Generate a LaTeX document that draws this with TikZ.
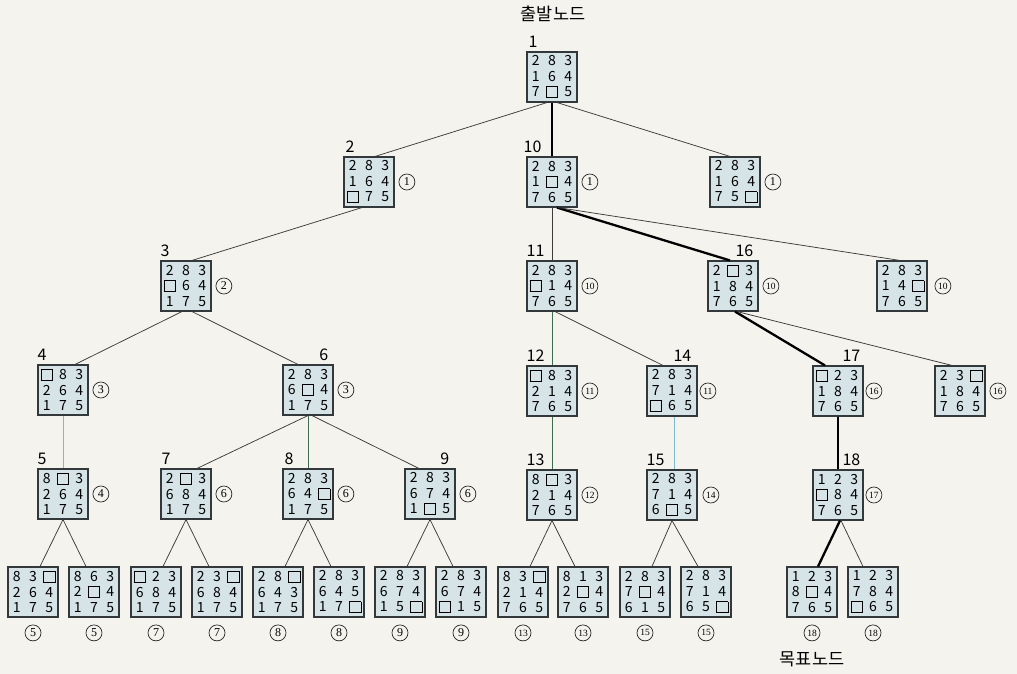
\documentclass[tikz,border=0pt]{standalone}
\usepackage{fontspec}
\setmainfont{Noto Sans CJK KR}
\newfontfamily\cnfont{Liberation Serif}
\usetikzlibrary{positioning,shadows}
\definecolor{bg}{HTML}{F5F3ED}
\definecolor{boxfill}{HTML}{D6E4E8}
\definecolor{boxline}{HTML}{33383B}
\definecolor{edgec}{HTML}{3C3C3C}
\definecolor{bluec}{HTML}{7FB9D0}
\definecolor{greenc}{HTML}{3F6B4F}
\newcommand\blk{\raisebox{-0.5pt}{\setlength{\fboxrule}{0.8pt}\setlength{\fboxsep}{0pt}\fbox{\rule{0pt}{10.5pt}\hspace{10.5pt}}}}
\newcommand\cell[1]{\makebox[16.3pt]{#1}}
\newcommand\bd[9]{\cell{#1}\cell{#2}\cell{#3}\\\cell{#4}\cell{#5}\cell{#6}\\\cell{#7}\cell{#8}\cell{#9}}
\tikzset{
  board/.style={draw=boxline, line width=1.1pt, fill=boxfill, minimum width=50pt, minimum height=50pt,
    inner sep=0pt, align=center, font=\fontsize{14}{15.5}\selectfont,
    drop shadow={shadow xshift=1.4pt, shadow yshift=-1.4pt, fill=black!50, opacity=0.8}},
  lbl/.style={font=\fontsize{16}{16}\selectfont, inner sep=0pt},
  cn/.style={circle, draw=black!85, line width=0.7pt, minimum size=16pt, inner sep=0pt,
    font=\cnfont\fontsize{12}{12}\selectfont},
  cnn/.style={cn, font=\cnfont\fontsize{9.5}{9.5}\selectfont},
  ed/.style={draw=edgec, line width=0.75pt},
  edb/.style={draw=bluec, line width=0.9pt},
  edg/.style={draw=greenc, line width=0.9pt},
  tk/.style={draw=black, line width=2.3pt},
  title/.style={font=\fontsize{17.5}{17.5}\selectfont, inner sep=0pt}
}
\begin{document}
\begin{tikzpicture}[x=1pt,y=-1pt]
\fill[bg] (0,0) rectangle (1017,674);
\useasboundingbox (0,0) rectangle (1017,674);

\node[title] (start) at (553,14) {출발노드};
\node[title] (goal) at (812,659) {목표노드};

% level 0
\node[board] (n1) at (552,77) {\bd{2}{8}{3}{1}{6}{4}{7}{\blk}{5}};
% level 1
\node[board] (n2) at (369,182) {\bd{2}{8}{3}{1}{6}{4}{\blk}{7}{5}};
\node[board] (n10) at (552,182) {\bd{2}{8}{3}{1}{\blk}{4}{7}{6}{5}};
\node[board] (nr1) at (735,182) {\bd{2}{8}{3}{1}{6}{4}{7}{5}{\blk}};
% level 2
\node[board] (n3) at (186,286) {\bd{2}{8}{3}{\blk}{6}{4}{1}{7}{5}};
\node[board] (n11) at (552,286) {\bd{2}{8}{3}{\blk}{1}{4}{7}{6}{5}};
\node[board] (n16) at (733,286) {\bd{2}{\blk}{3}{1}{8}{4}{7}{6}{5}};
\node[board] (nr2) at (902,286) {\bd{2}{8}{3}{1}{4}{\blk}{7}{6}{5}};
% level 3
\node[board] (n4) at (63,390) {\bd{\blk}{8}{3}{2}{6}{4}{1}{7}{5}};
\node[board] (n6) at (308,390) {\bd{2}{8}{3}{6}{\blk}{4}{1}{7}{5}};
\node[board] (n12) at (552,391) {\bd{\blk}{8}{3}{2}{1}{4}{7}{6}{5}};
\node[board] (n14) at (672,391) {\bd{2}{8}{3}{7}{1}{4}{\blk}{6}{5}};
\node[board] (n17) at (838,391) {\bd{\blk}{2}{3}{1}{8}{4}{7}{6}{5}};
\node[board] (nr3) at (960,391) {\bd{2}{3}{\blk}{1}{8}{4}{7}{6}{5}};
% level 4
\node[board] (n5) at (63,494) {\bd{8}{\blk}{3}{2}{6}{4}{1}{7}{5}};
\node[board] (n7) at (186,494) {\bd{2}{\blk}{3}{6}{8}{4}{1}{7}{5}};
\node[board] (n8) at (308,494) {\bd{2}{8}{3}{6}{4}{\blk}{1}{7}{5}};
\node[board] (n9) at (430,494) {\bd{2}{8}{3}{6}{7}{4}{1}{\blk}{5}};
\node[board] (n13) at (552,495) {\bd{8}{\blk}{3}{2}{1}{4}{7}{6}{5}};
\node[board] (n15) at (672,495) {\bd{2}{8}{3}{7}{1}{4}{6}{\blk}{5}};
\node[board] (n18) at (838,495) {\bd{1}{2}{3}{\blk}{8}{4}{7}{6}{5}};
% level 5
\node[board] (b1) at (33,592) {\bd{8}{3}{\blk}{2}{6}{4}{1}{7}{5}};
\node[board] (b2) at (94,592) {\bd{8}{6}{3}{2}{\blk}{4}{1}{7}{5}};
\node[board] (b3) at (156,592) {\bd{\blk}{2}{3}{6}{8}{4}{1}{7}{5}};
\node[board] (b4) at (217,592) {\bd{2}{3}{\blk}{6}{8}{4}{1}{7}{5}};
\node[board] (b5) at (278,592) {\bd{2}{8}{\blk}{6}{4}{3}{1}{7}{5}};
\node[board] (b6) at (339,592) {\bd{2}{8}{3}{6}{4}{5}{1}{7}{\blk}};
\node[board] (b7) at (400,592) {\bd{2}{8}{3}{6}{7}{4}{1}{5}{\blk}};
\node[board] (b8) at (461,592) {\bd{2}{8}{3}{6}{7}{4}{\blk}{1}{5}};
\node[board] (b9) at (523,592) {\bd{8}{3}{\blk}{2}{1}{4}{7}{6}{5}};
\node[board] (b10) at (583,592) {\bd{8}{1}{3}{2}{\blk}{4}{7}{6}{5}};
\node[board] (b11) at (645,592) {\bd{2}{8}{3}{7}{\blk}{4}{6}{1}{5}};
\node[board] (b12) at (706,592) {\bd{2}{8}{3}{7}{1}{4}{6}{5}{\blk}};
\node[board] (b13) at (812,592) {\bd{1}{2}{3}{8}{\blk}{4}{7}{6}{5}};
\node[board] (b14) at (873,592) {\bd{1}{2}{3}{7}{8}{4}{\blk}{6}{5}};

% order labels
\node[lbl, anchor=base west] (l1) at ([shift={(2,-4)}]n1.north west) {1};
\node[lbl, anchor=base west] (l2) at ([shift={(2,-4)}]n2.north west) {2};
\node[lbl, anchor=base west] (l10) at ([shift={(-3,-4)}]n10.north west) {10};
\node[lbl, anchor=base west] (l3) at ([shift={(0,-4)}]n3.north west) {3};
\node[lbl, anchor=base west] (l11) at ([shift={(0,-4)}]n11.north west) {11};
\node[lbl, anchor=base east] (l16) at ([shift={(-5,-4)}]n16.north east) {16};
\node[lbl, anchor=base west] (l4) at ([shift={(0,-4)}]n4.north west) {4};
\node[lbl, anchor=base east] (l6) at ([shift={(-5,-4)}]n6.north east) {6};
\node[lbl, anchor=base west] (l12) at ([shift={(0,-4)}]n12.north west) {12};
\node[lbl, anchor=base east] (l14) at ([shift={(-6,-4)}]n14.north east) {14};
\node[lbl, anchor=base east] (l17) at ([shift={(-3,-4)}]n17.north east) {17};
\node[lbl, anchor=base west] (l5) at ([shift={(0,-4)}]n5.north west) {5};
\node[lbl, anchor=base west] (l7) at ([shift={(1,-4)}]n7.north west) {7};
\node[lbl, anchor=base west] (l8) at ([shift={(2,-4)}]n8.north west) {8};
\node[lbl, anchor=base east] (l9) at ([shift={(-6,-4)}]n9.north east) {9};
\node[lbl, anchor=base west] (l13) at ([shift={(0,-4)}]n13.north west) {13};
\node[lbl, anchor=base west] (l15) at ([shift={(0,-4)}]n15.north west) {15};
\node[lbl, anchor=base east] (l18) at ([shift={(-3,-4)}]n18.north east) {18};

% circled evaluation numbers
\node[cn, right=4pt of n2] (c2) {1};
\node[cn, right=4pt of n10] (c10) {1};
\node[cn, right=4pt of nr1] (cr1) {1};
\node[cn, right=4pt of n3] (c3) {2};
\node[cnn, right=4pt of n11] (c11) {10};
\node[cnn, right=4pt of n16] (c16) {10};
\node[cnn, right=7pt of nr2] (cr2) {10};
\node[cn, right=4pt of n4] (c4) {3};
\node[cn, right=4pt of n6] (c6) {3};
\node[cnn, right=4pt of n12] (c12) {11};
\node[cnn, right=2pt of n14] (c14) {11};
\node[cnn, right=2pt of n17] (c17) {16};
\node[cnn, right=4pt of nr3] (cr3) {16};
\node[cn, right=4pt of n5] (c5) {4};
\node[cn, right=4pt of n7] (c7) {6};
\node[cn, right=4pt of n8] (c8) {6};
\node[cn, right=4pt of n9] (c9) {6};
\node[cnn, right=4pt of n13] (c13) {12};
\node[cnn, right=5pt of n15] (c15) {14};
\node[cnn, right=2pt of n18] (c18) {17};
\node[cn, below=7pt of b1] (cb1) {5};
\node[cn, below=7pt of b2] (cb2) {5};
\node[cn, below=7pt of b3] (cb3) {7};
\node[cn, below=7pt of b4] (cb4) {7};
\node[cn, below=7pt of b5] (cb5) {8};
\node[cn, below=7pt of b6] (cb6) {8};
\node[cn, below=7pt of b7] (cb7) {9};
\node[cn, below=7pt of b8] (cb8) {9};
\node[cnn, below=7pt of b9] (cb9) {13};
\node[cnn, below=7pt of b10] (cb10) {13};
\node[cnn, below=7pt of b11] (cb11) {15};
\node[cnn, below=7pt of b12] (cb12) {15};
\node[cnn, below=7pt of b13] (cb13) {18};
\node[cnn, below=7pt of b14] (cb14) {18};

% connectors
\draw[ed] ([xshift=-5]n1.south) -- ([xshift=6]n2.north);
\draw[tk] (n1.south) -- (n10.north);
\draw[ed] ([xshift=5]n1.south) -- ([xshift=-5]nr1.north);
\draw[ed] ([xshift=-7]n2.south) -- ([xshift=6]n3.north);
\draw[ed] ([xshift=-4]n3.south) -- ([xshift=12]n4.north);
\draw[ed] ([xshift=6]n3.south) -- ([xshift=-10]n6.north);
\draw[edb] (n4.south) -- (n5.north);
\draw[ed] (n6.south) -- ([xshift=11]n7.north);
\draw[edg] (n6.south) -- (n8.north);
\draw[ed] ([xshift=4]n6.south) -- ([xshift=-11]n9.north);
\draw[ed] (n10.south) -- (n11.north);
\draw[tk] ([xshift=5]n10.south) -- ([xshift=-3]n16.north);
\draw[ed] ([xshift=6]n10.south) -- ([xshift=-2]nr2.north);
\draw[edg] (n11.south) -- (n12.north);
\draw[ed] ([xshift=3]n11.south) -- ([xshift=-9]n14.north);
\draw[edg] (n12.south) -- (n13.north);
\draw[edb] ([xshift=2]n14.south) -- ([xshift=2]n15.north);
\draw[tk] ([xshift=2]n16.south) -- ([xshift=-13]n17.north);
\draw[ed] ([xshift=4]n16.south) -- ([xshift=-8]nr3.north);
\draw[tk] (n17.south) -- (n18.north);
\draw[ed] (n5.south) -- ([xshift=7]b1.north);
\draw[ed] (n5.south) -- ([xshift=-8]b2.north);
\draw[ed] (n7.south) -- ([xshift=7]b3.north);
\draw[ed] (n7.south) -- ([xshift=-8]b4.north);
\draw[ed] (n8.south) -- ([xshift=7]b5.north);
\draw[ed] (n8.south) -- ([xshift=-8]b6.north);
\draw[ed] (n9.south) -- ([xshift=7]b7.north);
\draw[ed] (n9.south) -- ([xshift=-8]b8.north);
\draw[ed] (n13.south) -- ([xshift=7]b9.north);
\draw[ed] (n13.south) -- ([xshift=-8]b10.north);
\draw[ed] (n15.south) -- ([xshift=7]b11.north);
\draw[ed] (n15.south) -- ([xshift=-8]b12.north);
\draw[tk] ([xshift=2]n18.south) -- ([xshift=6]b13.north);
\draw[ed] ([xshift=3]n18.south) -- ([xshift=-10]b14.north);
\end{tikzpicture}
\end{document}
